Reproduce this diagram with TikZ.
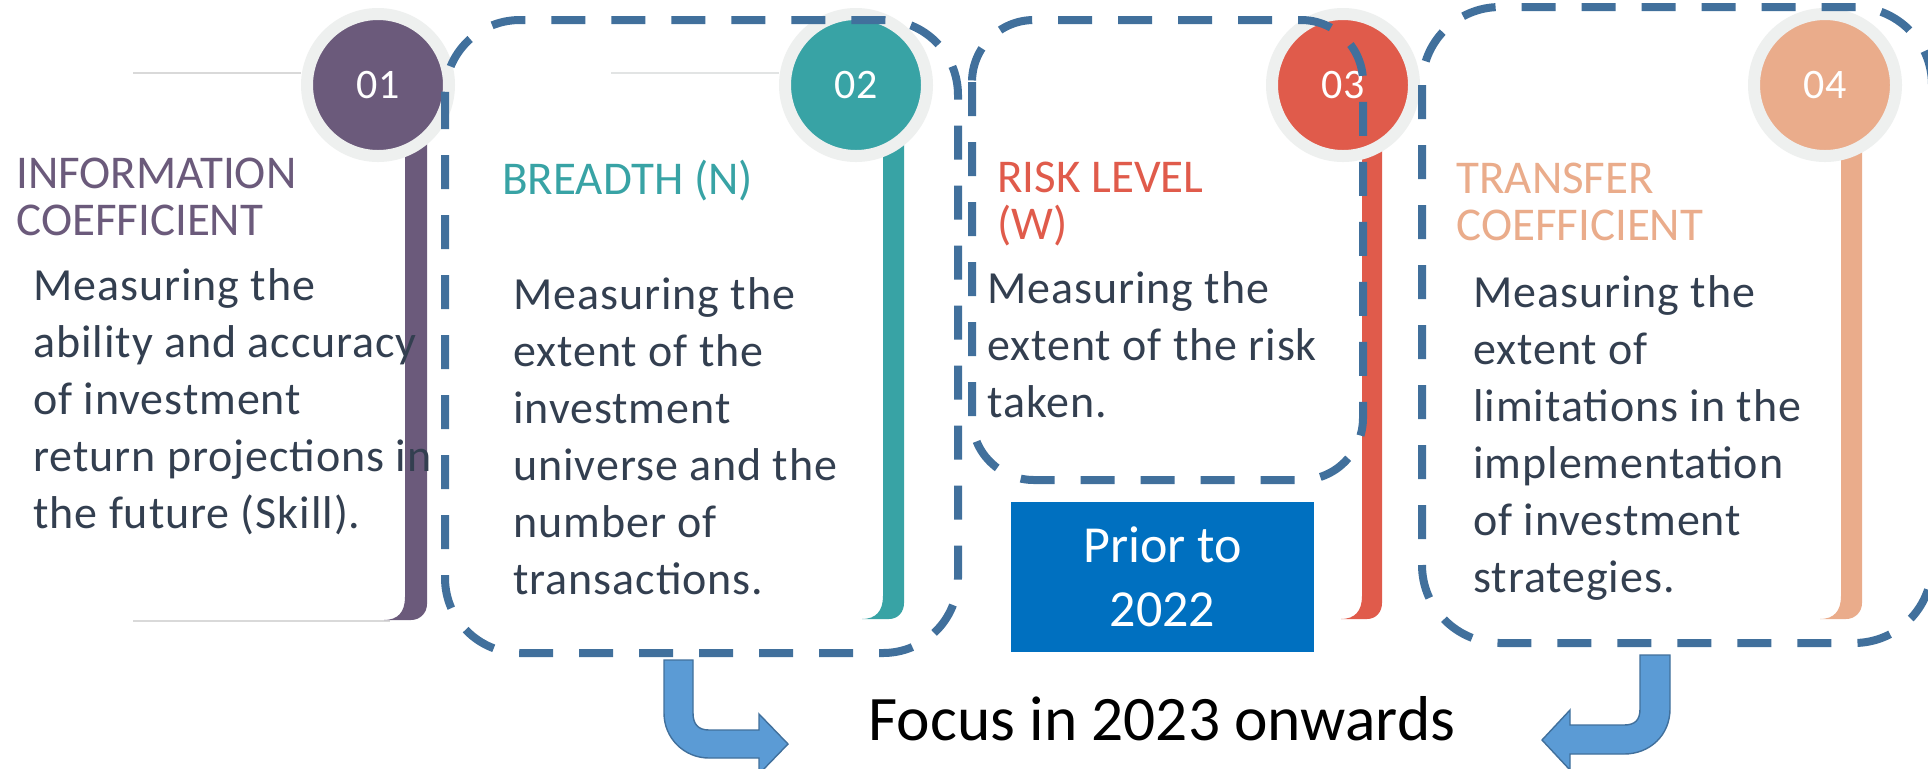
\documentclass[tikz,border=0pt]{standalone}
\usepackage{fontspec}
\setmainfont{Carlito}
\usepackage{tikz}
\definecolor{icpurple}{HTML}{6B5A7B}
\definecolor{bdteal}{HTML}{38A3A5}
\definecolor{rkred}{HTML}{E05B4B}
\definecolor{tcpeach}{HTML}{EAAC8B}
\definecolor{ringgrey}{HTML}{EEF0EF}
\definecolor{dashblue}{HTML}{41709C}
\definecolor{bodygrey}{HTML}{333F50}
\definecolor{priorblue}{HTML}{0070C0}
\definecolor{arrowblue}{HTML}{5B9BD5}

\begin{document}
\begin{tikzpicture}[x=0.5pt,y=-0.5pt,
		numdot/.style={circle,draw=ringgrey,line width=6pt,minimum size=71pt,inner sep=0pt,text=white,font=\fontsize{21}{21}\selectfont},
		headtxt/.style={anchor=north west,align=left,inner sep=0pt,font=\fontsize{23.5}{23.5}\selectfont},
		bodytxt/.style={anchor=north west,align=left,inner sep=0pt,text=bodygrey,font=\fontsize{23}{28.5}\selectfont\addfontfeatures{LetterSpace=2}},
		dashbox/.style={draw=dashblue,line width=4pt,dash pattern=on 17pt off 13pt},
		bentarrow/.style={fill=arrowblue,draw=dashblue,line width=0.7pt}]
		\useasboundingbox (0,0) rectangle (1928,768);
		\fill[white] (0,0) rectangle (1928,768);
		\draw[line width=0.8pt,black!15] (133,73) -- (301,73);
		\draw[line width=0.8pt,black!15] (133,621) -- (390,621);
		\draw[line width=0.8pt,bdteal!20!black!12] (611,73) -- (779,73);
		\fill[icpurple] (405,85) -- (405,597) .. controls (405,612) and (398,620) .. (384,620) -- (411,620) .. controls (420,620) and (427,613) .. (427,604) -- (427,85) -- cycle;
		\fill[bdteal] (883,85) -- (883,596) .. controls (883,611) and (876,619) .. (862,619) -- (889,619) .. controls (898,619) and (904,612) .. (904,603) -- (904,85) -- cycle;
		\fill[rkred] (1362,85) -- (1362,596) .. controls (1362,611) and (1355,619) .. (1341,619) -- (1367,619) .. controls (1376,619) and (1382,612) .. (1382,603) -- (1382,85) -- cycle;
		\fill[tcpeach] (1841,85) -- (1841,596) .. controls (1841,611) and (1834,619) .. (1820,619) -- (1846,619) .. controls (1855,619) and (1862,612) .. (1862,603) -- (1862,85) -- cycle;
		\node[numdot,fill=icpurple] (num1) at (378,85) {01};
		\node[numdot,fill=bdteal] (num2) at (856,85) {02};
		\node[numdot,fill=rkred] (num3) at (1343,85) {03};
		\node[numdot,fill=tcpeach] (num4) at (1825,85) {04};
		\node[headtxt,text=icpurple] (head1) at (16,158) {INFORMATION\\COEFFICIENT};
		\node[headtxt,text=bdteal] (head2) at (502,160) {BREADTH (N)};
		\node[headtxt,text=rkred] (head3) at (997,162) {RISK LEVEL\\(W)};
		\node[headtxt,text=tcpeach] (head4) at (1456,163) {TRANSFER\\COEFFICIENT};
		\node[bodytxt] (text1) at (33,268) {Measuring the\\ability and accuracy\\of investment\\return projections in\\the future (Skill).};
		\node[bodytxt] (text2) at (513,277) {Measuring the\\extent of the\\investment\\universe and the\\number of\\transactions.};
		\node[bodytxt] (text3) at (987,271) {Measuring the\\extent of the risk\\taken.};
		\node[bodytxt] (text4) at (1473,275) {Measuring the\\extent of\\limitations in the\\implementation\\of investment\\strategies.};
		\node[fill=priorblue,minimum width=151.5pt,minimum height=75pt,inner sep=0pt,text=white,align=center,font=\fontsize{26}{32}\selectfont] (prior) at (1162.5,577) {Prior to\\2022};
		\node[anchor=base,inner sep=0pt,font=\fontsize{31.7}{31.7}\selectfont] (focus) at (1162,740) {Focus in 2023 onwards};
		\filldraw[bentarrow] (664,660) -- (693,660) -- (693,713) .. controls (693,724) and (698,730) .. (709,730) -- (759,730) -- (759,714) -- (788,744) -- (759,774) -- (759,758) -- (709,758) .. controls (684,758) and (664,738) .. (664,713) -- cycle;
		\filldraw[bentarrow] (1670,655) -- (1640,655) -- (1640,709) .. controls (1640,720) and (1635,725) .. (1624,725) -- (1570,725) -- (1570,710) -- (1542,740) -- (1570,770) -- (1570,754) -- (1624,754) .. controls (1650,754) and (1670,735) .. (1670,709) -- cycle;
		\draw[dashbox,rounded corners=37.5pt] (445,20) rectangle (958,653);
		\draw[dashbox,rounded corners=31pt] (972,20) rectangle (1363,480);
		\draw[dashbox,rounded corners=39pt] (1422,7) rectangle (1932,643);
\end{tikzpicture}
\end{document}
